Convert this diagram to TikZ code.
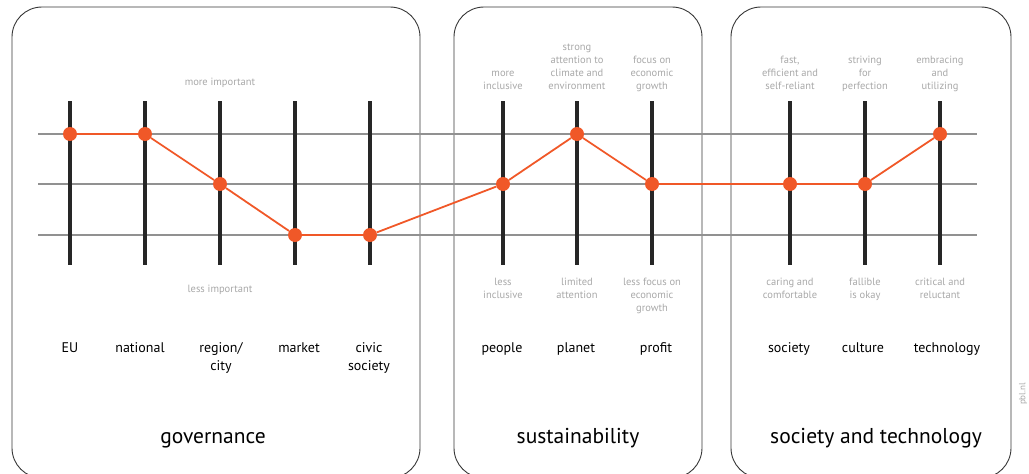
\documentclass[tikz,border=0pt]{standalone}
\usepackage{fontspec}
\setmainfont{PT Sans}
\usetikzlibrary{positioning}
\definecolor{pblorange}{RGB}{240,88,40}
\definecolor{polegrey}{RGB}{168,168,168}
\definecolor{linegrey}{RGB}{145,145,145}
\definecolor{panelgrey}{RGB}{55,55,55}

\begin{document}
\begin{tikzpicture}[x=1pt,y=-1pt,
    panel/.style={draw=panelgrey, line width=0.9pt, rounded corners=30pt},
    level/.style={draw=linegrey, line width=1.1pt},
    bar/.style={draw=black!85, line width=4pt},
    dot/.style={circle, fill=pblorange, inner sep=0pt, minimum size=14pt},
    link/.style={draw=pblorange, line width=1.8pt},
    pole/.style={font=\fontsize{10.5}{13}\selectfont, text=polegrey, align=center, inner sep=0pt, execute at end node={\strut}},
    item/.style={font=\fontsize{14}{18}\selectfont, align=center, anchor=base, inner sep=0pt},
    title/.style={font=\fontsize{21.5}{26}\selectfont, anchor=base, inner sep=0pt}]
\useasboundingbox (0,0) rectangle (1029,474);

\draw[panel] (12,7) rectangle (420,478);
\draw[panel] (454,7) rectangle (702,478);
\draw[panel] (731,7) rectangle (1011,478);

\foreach \y/\n in {134/hi,184/mid,235/lo}{
  \coordinate (\n-l) at (38,\y);
  \coordinate (\n-r) at (977,\y);
  \draw[level] (\n-l) -- (\n-r);
}

\foreach \x/\n in {70/eu,145/nat,220/reg,295/mkt,370/civ,503/ppl,577/pla,652/pro,790/soc,865/cul,940/tec}{
  \coordinate (\n-top) at (\x,101);
  \coordinate (\n-bot) at (\x,265);
  \draw[bar] (\n-top) -- (\n-bot);
}

\node[dot] (eu)  at (70,134) {};
\node[dot] (nat) at (145,134) {};
\node[dot] (reg) at (220,184) {};
\node[dot] (mkt) at (295,235) {};
\node[dot] (civ) at (370,235) {};
\node[dot] (ppl) at (503,184) {};
\node[dot] (pla) at (577,134) {};
\node[dot] (pro) at (652,184) {};
\node[dot] (soc) at (790,184) {};
\node[dot] (cul) at (865,184) {};
\node[dot] (tec) at (940,134) {};

\draw[link] (eu) -- (nat) -- (reg) -- (mkt) -- (civ) -- (ppl) -- (pla) -- (pro) -- (soc) -- (cul) -- (tec);

\node[pole, above=11pt of reg-top] (gov-hi) {more important};
\node[pole, below=18pt of reg-bot] (gov-lo) {less important};
\node[pole, above=7pt of ppl-top] (ppl-hi) {more\\inclusive};
\node[pole, below=13pt of ppl-bot] (ppl-lo) {less\\inclusive};
\node[pole, above=7pt of pla-top] (pla-hi) {strong\\attention to\\climate and\\environment};
\node[pole, below=13pt of pla-bot] (pla-lo) {limited\\attention};
\node[pole, above=7pt of pro-top] (pro-hi) {focus on\\economic\\growth};
\node[pole, below=13pt of pro-bot] (pro-lo) {less focus on\\economic\\growth};
\node[pole, above=7pt of soc-top] (soc-hi) {fast,\\efficient and\\self-reliant};
\node[pole, below=13pt of soc-bot] (soc-lo) {caring and\\comfortable};
\node[pole, above=7pt of cul-top] (cul-hi) {striving\\for\\perfection};
\node[pole, below=13pt of cul-bot] (cul-lo) {fallible\\is okay};
\node[pole, above=7pt of tec-top] (tec-hi) {embracing\\and\\utilizing};
\node[pole, below=13pt of tec-bot] (tec-lo) {critical and\\reluctant};

\node[item] (eu-lab)  at (70,352)  {EU};
\node[item] (nat-lab) at (140,352) {national};
\node[item] (reg-lab) at (221,370) {region/\\city};
\node[item] (mkt-lab) at (299,352) {market};
\node[item] (civ-lab) at (369,370) {civic\\society};
\node[item] (ppl-lab) at (502,352) {people};
\node[item] (pla-lab) at (576,352) {planet};
\node[item] (pro-lab) at (656,352) {profit};
\node[item] (soc-lab) at (789,352) {society};
\node[item] (cul-lab) at (863,352) {culture};
\node[item] (tec-lab) at (947,352) {technology};

\node[title] (gov)  at (213,443) {governance};
\node[title] (sus)  at (578,443) {sustainability};
\node[title] (sat)  at (876,443) {society and technology};

\node[font=\fontsize{9}{11}\selectfont, text=polegrey, rotate=90] (pbl) at (1023,394) {pbl.nl};
\end{tikzpicture}
\end{document}
